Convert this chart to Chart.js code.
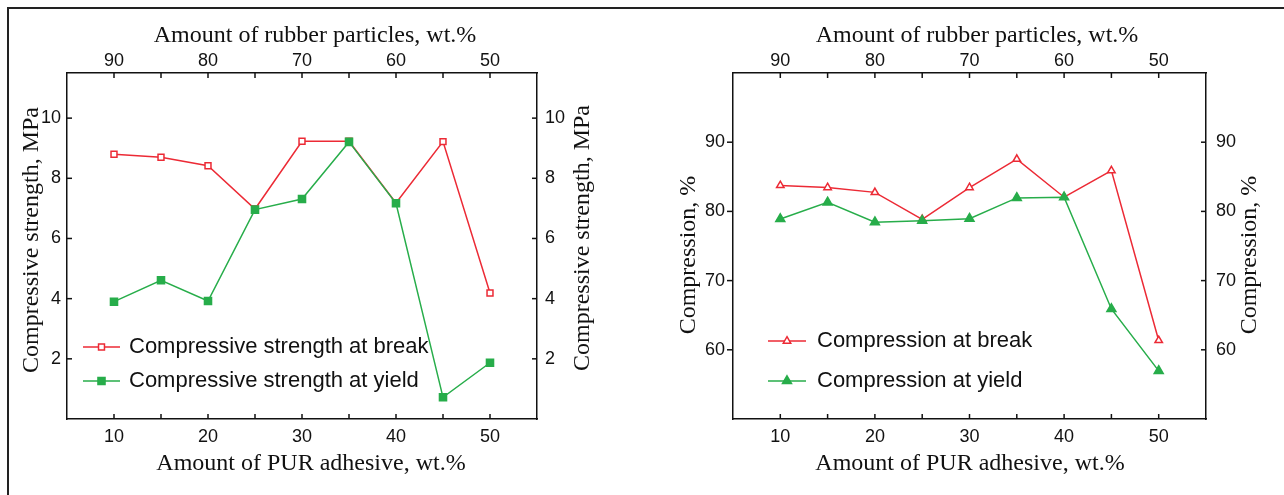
<!DOCTYPE html>
<html>
<head>
<meta charset="utf-8">
<script src="https://cdn.jsdelivr.net/npm/chart.js@4.4.1/dist/chart.umd.min.js"></script>
<style>
  html, body { margin: 0; padding: 0; background: #fff; }
  body { width: 1284px; height: 495px; position: relative; overflow: hidden; }
  #frame { position: absolute; left: 7px; top: 7px; right: -10px; bottom: -10px;
           border-left: 2px solid #222; border-top: 2px solid #222; }
  canvas { position: absolute; top: 0; }
  #c1 { left: 0; }
  #c2 { left: 642px; }
</style>
</head>
<body>
<div id="frame"></div>
<canvas id="c1" width="642" height="495"></canvas>
<canvas id="c2" width="642" height="495"></canvas>
<script>
// PUR adhesive content, wt.% (rubber particles = 100 - PUR)
const purAmount = [10, 15, 20, 25, 30, 35, 40, 45, 50];

// compressive strength, MPa
const strengthBreak = [8.8, 8.7, 8.42, 6.98, 9.23, 9.23, 7.18, 9.22, 4.19];
const strengthYield = [3.9, 4.61, 3.92, 6.96, 7.31, 9.21, 7.17, 0.72, 1.87];

// compression, %
const compressionBreak = [83.75, 83.45, 82.75, 78.85, 83.45, 87.55, 82.05, 85.9, 61.35];
const compressionYield = [78.9, 81.3, 78.45, 78.65, 78.95, 81.95, 82.05, 65.9, 56.95];

const xTitle = 'Amount of PUR adhesive, wt.%';
const x2Title = 'Amount of rubber particles, wt.%';

const RED = '#ec2a35';
const GREEN = '#27ad4a';
const INK = '#111';
const sansFont = 'Liberation Sans';
const serifFont = 'Liberation Serif';

const toPoints = vals => vals.map((v, i) => ({ x: purAmount[i], y: v }));

// short tick marks, inward (1) or outward (-1), at every tick except the axis ends
const tickMarks = {
  id: 'tickMarks',
  afterDatasetsDraw(chart, args, opts) {
    const ctx = chart.ctx;
    ctx.save();
    ctx.strokeStyle = INK;
    ctx.lineWidth = 1.5;
    Object.keys(opts.dirs || {}).forEach(id => {
      const s = chart.scales[id];
      const dir = opts.dirs[id];
      const len = dir < 0 ? 6 : 5;
      s.ticks.forEach(t => {
        if (t.value === s.min || t.value === s.max) return;
        const p = s.getPixelForValue(t.value);
        ctx.beginPath();
        if (s.isHorizontal()) {
          const y0 = s.position === 'top' ? s.bottom : s.top;
          const sign = s.position === 'top' ? 1 : -1;
          ctx.moveTo(p, y0);
          ctx.lineTo(p, y0 + sign * dir * len);
        } else {
          const x0 = s.position === 'left' ? s.right : s.left;
          const sign = s.position === 'left' ? 1 : -1;
          ctx.moveTo(x0, p);
          ctx.lineTo(x0 + sign * dir * len, p);
        }
        ctx.stroke();
      });
    });
    ctx.restore();
  }
};

// axis titles; the vertical ones both read bottom to top
const axisTitles = {
  id: 'axisTitles',
  afterDraw(chart, args, opts) {
    const ctx = chart.ctx;
    (opts.items || []).forEach(it => {
      ctx.save();
      ctx.translate(it.x, it.y);
      if (it.vertical) ctx.rotate(-Math.PI / 2);
      ctx.fillStyle = INK;
      ctx.font = '24px "' + serifFont + '"';
      ctx.textAlign = 'center';
      ctx.textBaseline = 'middle';
      ctx.fillText(it.text, 0, 0);
      ctx.restore();
    });
  }
};

// legend drawn inside the plot box
const innerLegend = {
  id: 'innerLegend',
  afterDraw(chart, args, opts) {
    const { ctx, chartArea } = chart;
    chart.data.datasets.forEach((ds, i) => {
      const x = chartArea.left + opts.left;
      const y = chartArea.top + opts.top + i * opts.gap;
      ctx.save();
      ctx.strokeStyle = ds.borderColor;
      ctx.lineWidth = ds.borderWidth;
      ctx.beginPath();
      ctx.moveTo(x, y);
      ctx.lineTo(x + opts.lineLen, y);
      ctx.stroke();
      ctx.fillStyle = ds.pointBackgroundColor;
      ctx.strokeStyle = ds.pointBorderColor;
      ctx.lineWidth = ds.pointBorderWidth;
      Chart.helpers.drawPoint(ctx, {
        pointStyle: ds.pointStyle, radius: ds.pointRadius,
        borderWidth: ds.pointBorderWidth, rotation: 0
      }, x + opts.lineLen / 2, y);
      ctx.fillStyle = INK;
      ctx.font = '22px "' + sansFont + '"';
      ctx.textAlign = 'left';
      ctx.textBaseline = 'middle';
      ctx.fillText(ds.label, x + opts.lineLen + opts.textGap, y);
      ctx.restore();
    });
  }
};

function makeDataset(label, vals, color, style, filled, radius, order) {
  return {
    label: label,
    data: toPoints(vals),
    borderColor: color,
    borderWidth: 1.5,
    pointStyle: style,
    pointRadius: radius,
    pointHoverRadius: radius,
    pointBorderWidth: 1.5,
    pointBorderColor: color,
    pointBackgroundColor: filled ? color : '#fff',
    tension: 0,
    order: order
  };
}

function tickFont() {
  return { family: sansFont, size: 18, lineHeight: 1.2 };
}

function buildOptions(cfg) {
  const border = { display: true, color: INK, width: 1.5 };
  const yLabel = v => (v === cfg.yMin || v === cfg.yMax ? '' : String(v));
  return {
    responsive: false,
    animation: false,
    events: [],
    layout: { padding: 0 },
    plugins: {
      legend: { display: false },
      tooltip: { enabled: false },
      tickMarks: { dirs: cfg.dirs },
      axisTitles: { items: cfg.titles },
      innerLegend: cfg.legend
    },
    scales: {
      x: {
        type: 'linear', position: 'bottom', min: 5, max: 55,
        grid: { display: false, drawTicks: false }, border: border,
        ticks: { stepSize: 5, includeBounds: false, padding: 7, color: INK, font: tickFont(), maxRotation: 0,
                 callback: v => (v % 10 === 0 ? String(v) : '') },
        afterFit: s => { s.height = 76; }
      },
      x2: {
        type: 'linear', position: 'top', min: 5, max: 55,
        grid: { display: false, drawTicks: false }, border: border,
        ticks: { stepSize: 5, includeBounds: false, padding: 1, color: INK, font: tickFont(), maxRotation: 0,
                 callback: v => (v % 10 === 0 ? String(100 - v) : '') },
        afterFit: s => { s.height = 73; }
      },
      y: {
        type: 'linear', position: 'left', min: cfg.yMin, max: cfg.yMax,
        grid: { display: false, drawTicks: false }, border: border,
        ticks: { stepSize: cfg.yStep, includeBounds: false, padding: cfg.yPad, color: INK, font: tickFont(),
                 callback: yLabel },
        afterFit: s => { s.width = cfg.leftW; }
      },
      y2: {
        type: 'linear', position: 'right', min: cfg.yMin, max: cfg.yMax,
        grid: { display: false, drawTicks: false }, border: border,
        ticks: { stepSize: cfg.yStep, includeBounds: false, padding: cfg.y2Pad, color: INK, font: tickFont(),
                 callback: yLabel },
        afterFit: s => { s.width = cfg.rightW; }
      }
    }
  };
}

const strengthTitle = 'Compressive strength, MPa';
new Chart(document.getElementById('c1'), {
  type: 'line',
  data: {
    datasets: [
      makeDataset('Compressive strength at break', strengthBreak, RED, 'rect', false, 4.2, 2),
      makeDataset('Compressive strength at yield', strengthYield, GREEN, 'rect', true, 5, 1)
    ]
  },
  options: buildOptions({
    yMin: 0, yMax: 11.5, yStep: 2, yPad: 6, y2Pad: 8,
    leftW: 67, rightW: 105,
    dirs: { x: 1, x2: 1, y: 1, y2: 1 },
    titles: [
      { text: x2Title, x: 315, y: 36 },
      { text: xTitle, x: 311, y: 464 },
      { text: strengthTitle, x: 32, y: 240, vertical: true },
      { text: strengthTitle, x: 583, y: 238, vertical: true }
    ],
    legend: { left: 16, top: 274, gap: 34, lineLen: 37, textGap: 9 }
  }),
  plugins: [tickMarks, axisTitles, innerLegend]
});

const compressionTitle = 'Compression, %';
new Chart(document.getElementById('c2'), {
  type: 'line',
  data: {
    datasets: [
      makeDataset('Compression at break', compressionBreak, RED, 'triangle', false, 4.3, 2),
      makeDataset('Compression at yield', compressionYield, GREEN, 'triangle', true, 5.2, 1)
    ]
  },
  options: buildOptions({
    yMin: 50, yMax: 100, yStep: 10, yPad: 8, y2Pad: 10,
    leftW: 91, rightW: 78,
    dirs: { x: 1, x2: 1, y: -1, y2: 1 },
    titles: [
      { text: x2Title, x: 335, y: 36 },
      { text: xTitle, x: 328, y: 464 },
      { text: compressionTitle, x: 47, y: 255, vertical: true },
      { text: compressionTitle, x: 608, y: 255, vertical: true }
    ],
    legend: { left: 35, top: 268, gap: 40, lineLen: 38, textGap: 11 }
  }),
  plugins: [tickMarks, axisTitles, innerLegend]
});
</script>
</body>
</html>
